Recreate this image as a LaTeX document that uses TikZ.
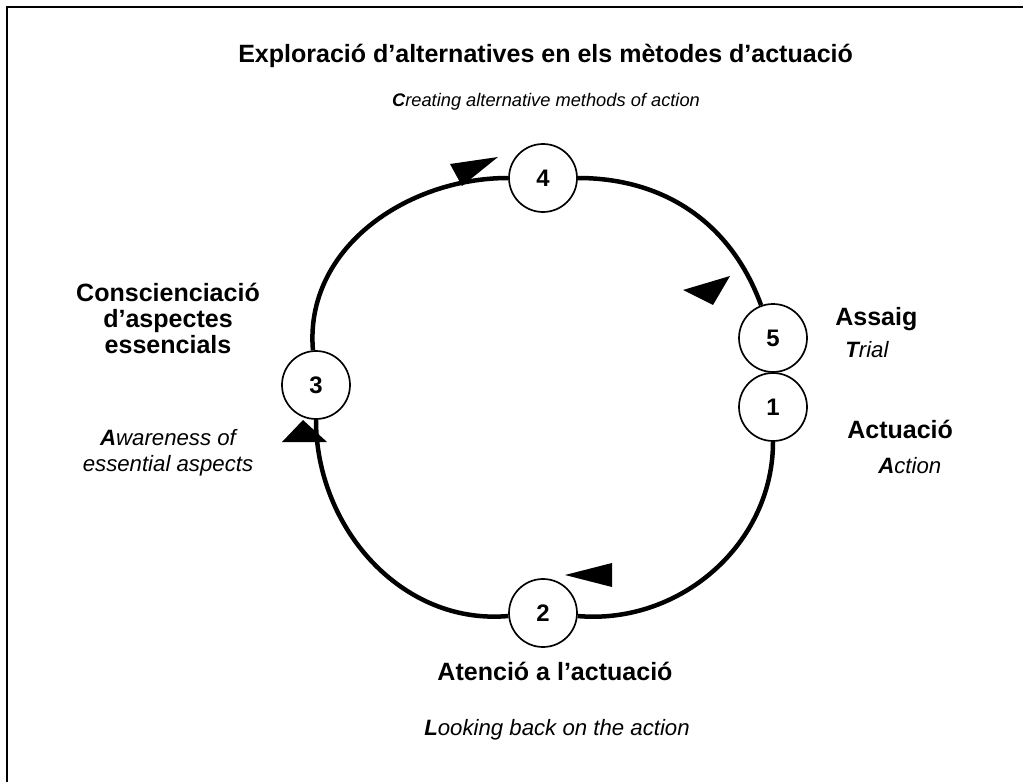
\documentclass[tikz,border=0pt]{standalone}
\usepackage{fontspec}
\setmainfont{Liberation Sans}
\usetikzlibrary{positioning}

\begin{document}
\begin{tikzpicture}[
    stage/.style={draw, circle, line width=1.2pt, fill=white, minimum size=1.7cm, inner sep=0pt, font=\fontsize{17}{20}\selectfont\bfseries},
    heading/.style={inner sep=0pt, font=\fontsize{17.8}{18.5}\selectfont\bfseries},
    gloss/.style={inner sep=0pt, font=\fontsize{15.8}{18.5}\selectfont\itshape},
    cycle/.style={line width=3.2pt}
  ]
            \useasboundingbox (0,0) rectangle (25.575,-19.55);
            % frame (only top and left edges show)
            \draw[line width=1.3pt] (0.175,-19.55) -- (0.175,-0.175) -- (25.575,-0.175);

            % ALACT cycle
            \node[stage] (act) at (19.325,-10.175) {1};
            \node[stage] (look) at (13.575,-15.325) {2};
            \node[stage] (aware) at (7.9,-9.625) {3};
            \node[stage] (create) at (13.575,-4.45) {4};
            \node[stage] (trial) at (19.325,-8.45) {5};

            \draw[cycle] (act) to[out=-90, in=-5] (look);
            \draw[cycle] (look) to[out=185, in=-90] (aware);
            \draw[cycle] (aware) to[out=95, in=180] (create);
            \draw[cycle] (create) to[out=0, in=110] (trial);

            % arrow heads
            \fill (11.25,-4.1) -- (12.45,-3.925) -- (11.55,-4.65) -- cycle;
            \fill (17.075,-7.25) -- (18.25,-6.9) -- (17.825,-7.625) -- cycle;
            \fill (14.125,-14.375) -- (15.3,-14.075) -- (15.3,-14.675) -- cycle;
            \fill (7.575,-10.5) -- (7.05,-11.05) -- (8.175,-11.05) -- cycle;

            % labels
            \node[heading, anchor=base] (t4) at (13.64,-1.575) {Exploració d’alternatives en els mètodes d’actuació};
            \node[gloss, anchor=base, font=\fontsize{13}{15}\selectfont\itshape] (g4) at (13.65,-2.675) {\textbf{C}reating alternative methods of action};
            \node[heading, align=center] (t3) at (4.2,-7.95) {Conscienciació\\d’aspectes\\essencials};
            \node[gloss, align=center] (g3) at (4.2,-11.325) {\textbf{A}wareness of\\essential aspects};
            \node[heading, anchor=base west] (t5) at (20.875,-8.125) {Assaig};
            \node[gloss, anchor=base west] (g5) at (21.125,-8.925) {\textbf{T}rial};
            \node[heading, anchor=base west] (t1) at (21.175,-10.95) {Actuació};
            \node[gloss, anchor=base west] (g1) at (21.95,-11.825) {\textbf{A}ction};
            \node[heading, anchor=base] (t2) at (13.875,-17.0) {Atenció a l’actuació};
            \node[gloss, anchor=base] (g2) at (13.925,-18.375) {\textbf{L}ooking back on the action};
\end{tikzpicture}
\end{document}
